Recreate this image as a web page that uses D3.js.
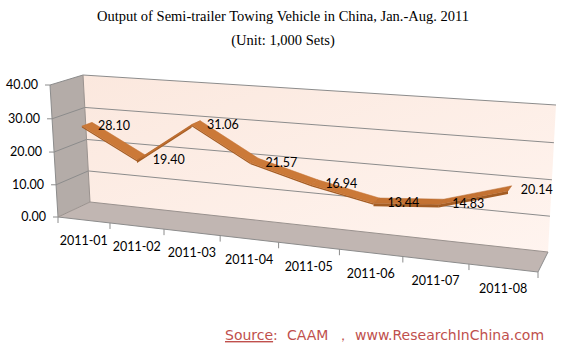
<!DOCTYPE html>
<html>
<head>
<meta charset="utf-8">
<script src="https://cdn.jsdelivr.net/npm/d3@7"></script>
<style>
  body { margin: 0; background: #fff; }
  svg { display: block; }
</style>
</head>
<body>
<svg id="chart" width="564" height="352"></svg>
<script>
// data
const months = ["2011-01", "2011-02", "2011-03", "2011-04", "2011-05", "2011-06", "2011-07", "2011-08"];
const output = [28.10, 19.40, 31.06, 21.57, 16.94, 13.44, 14.83, 20.14];
const valueTicks = [0, 10, 20, 30, 40];

const svg = d3.select("#chart");

// corners of the front and back planes of the 3d box (screen px)
const frontQuad = [[58, 217], [538, 272], [547, 118], [50, 85]]; // BL, BR, TR, TL
const backQuad = [[90, 202], [548, 252], [556, 105], [83, 75]];

// unit square -> quad (perspective)
function homography(q) {
    const [x0, y0] = q[0], [x1, y1] = q[1], [x2, y2] = q[2], [x3, y3] = q[3];
    const dx1 = x1 - x2, dx2 = x3 - x2, dx3 = x0 - x1 + x2 - x3;
    const dy1 = y1 - y2, dy2 = y3 - y2, dy3 = y0 - y1 + y2 - y3;
    const den = dx1 * dy2 - dx2 * dy1;
    const g = (dx3 * dy2 - dx2 * dy3) / den;
    const h = (dx1 * dy3 - dx3 * dy1) / den;
    const a = x1 - x0 + g * x1, b = x3 - x0 + h * x3, c = x0;
    const d = y1 - y0 + g * y1, e = y3 - y0 + h * y3, f = y0;
    return (u, v) => {
        const w = g * u + h * v + 1;
        return [(a * u + b * v + c) / w, (d * u + e * v + f) / w];
    };
}
const front = homography(frontQuad);
const back = homography(backQuad);

// 3d point: u across categories, v up the value axis, z into depth
function P(u, v, z) {
    const p = front(u, v), q = back(u, v);
    return [p[0] + (q[0] - p[0]) * z, p[1] + (q[1] - p[1]) * z];
}

const x = d3.scaleBand().domain(months).range([0, 1]);
const y = d3.scaleLinear().domain([0, 40]).range([0, 1]);
const xc = m => x(m) + x.bandwidth() / 2;

const line = d3.line();
const poly = pts => line(pts) + "Z";

// defs
const defs = svg.append("defs");
const wallGrad = defs.append("linearGradient").attr("id", "wallGrad")
    .attr("x1", 0).attr("y1", 0).attr("x2", 1).attr("y2", 1);
wallGrad.append("stop").attr("offset", 0).attr("stop-color", "#fbe8de");
wallGrad.append("stop").attr("offset", 1).attr("stop-color", "#fff4ef");

// back wall
svg.append("path")
    .attr("d", poly([P(0, 0, 1), P(1, 0, 1), P(1, 1, 1), P(0, 1, 1)]))
    .attr("fill", "url(#wallGrad)");

// side wall
svg.append("path")
    .attr("d", poly([P(0, 0, 0), P(0, 0, 1), P(0, 1, 1), P(0, 1, 0)]))
    .attr("fill", "#b4aca8");

// floor
svg.append("path")
    .attr("d", poly([P(0, 0, 0), P(1, 0, 0), P(1, 0, 1), P(0, 0, 1)]))
    .attr("fill", "#c1b6b2");

// gridlines: side wall + back wall
const grid = svg.append("g").attr("stroke", "#8c8c8c").attr("stroke-width", 1).attr("fill", "none");
valueTicks.forEach(t => {
    if (t === 0) return;
    grid.append("path").attr("d", line([P(0, y(t), 0), P(0, y(t), 1), P(1, y(t), 1)]));
});
// box edges
grid.append("path").attr("d", line([P(0, 1, 0), P(0, 0, 0), P(1, 0, 0), P(1, 0, 1)]));
grid.append("path").attr("d", line([P(0, 0, 0), P(0, 0, 1), P(0, 1, 1)])).attr("stroke", "#9a928e");
grid.append("path").attr("d", line([P(0, 0, 1), P(1, 0, 1)])).attr("stroke", "#9a928e");

// value axis ticks + labels
const axisFont = "Lato, 'Open Sans', sans-serif";
valueTicks.forEach(t => {
    const p = P(0, y(t), 0);
    svg.append("line")
        .attr("x1", p[0] - 5).attr("y1", p[1]).attr("x2", p[0]).attr("y2", p[1])
        .attr("stroke", "#8c8c8c");
    svg.append("text")
        .attr("x", p[0] - 12).attr("y", p[1] + 4)
        .attr("text-anchor", "end")
        .attr("font-family", axisFont).attr("font-size", 12.5)
        .attr("fill", "#000")
        .text(d3.format(".2f")(t));
});

// category ticks + labels
const tickU = months.map(m => x(m)).concat([1]);
tickU.forEach(u => {
    const p = P(u, 0, 0);
    svg.append("line")
        .attr("x1", p[0]).attr("y1", p[1]).attr("x2", p[0]).attr("y2", p[1] + 6)
        .attr("stroke", "#8c8c8c");
});
months.forEach(m => {
    const p = P(xc(m), 0, 0);
    svg.append("text")
        .attr("x", p[0]).attr("y", p[1] + 25)
        .attr("text-anchor", "middle")
        .attr("font-family", axisFont).attr("font-size", 12.5)
        .text(m);
});

// ribbon
const z1 = 0.1, z2 = 0.42;
const ribbon = svg.append("g");
for (let i = 0; i < months.length - 1; i++) {
    const ua = xc(months[i]), ub = xc(months[i + 1]);
    const va = y(output[i]), vb = y(output[i + 1]);
    const a1 = P(ua, va, z1), b1 = P(ub, vb, z1);
    const thick = vb > va ? 3 : 1.5; // rising parts show more of the edge
    ribbon.append("path")
        .attr("d", poly([a1, b1, [b1[0], b1[1] + thick], [a1[0], a1[1] + thick]]))
        .attr("fill", "#a45d24");
}
for (let i = 0; i < months.length - 1; i++) {
    const ua = xc(months[i]), ub = xc(months[i + 1]);
    const va = y(output[i]), vb = y(output[i + 1]);
    const a1 = P(ua, va, z1), b1 = P(ub, vb, z1), b2 = P(ub, vb, z2), a2 = P(ua, va, z2);
    ribbon.append("path")
        .attr("d", poly([a1, b1, b2, a2]))
        .attr("fill", vb > va ? "#c47232" : "#cb7938")
        .attr("stroke", vb > va ? "#b3672c" : "#c47334")
        .attr("stroke-width", 0.5);
}

// data labels
months.forEach((m, i) => {
    const p = P(xc(m), y(output[i]), (z1 + z2) / 2);
    svg.append("text")
        .attr("x", p[0] + 11).attr("y", p[1] + 6)
        .attr("font-family", axisFont).attr("font-size", 12.5)
        .text(d3.format(".2f")(output[i]));
});

// title
const title = svg.append("text")
    .attr("text-anchor", "middle")
    .attr("font-family", "'Liberation Serif', 'DejaVu Serif', serif")
    .attr("font-size", 14.5)
    .attr("fill", "#000");
title.append("tspan").attr("x", 283).attr("y", 21)
    .text("Output of Semi-trailer Towing Vehicle in China, Jan.-Aug. 2011");
title.append("tspan").attr("x", 283).attr("y", 45)
    .text("(Unit: 1,000 Sets)");

// source
const src = svg.append("text")
    .attr("y", 340)
    .attr("font-family", "'DejaVu Sans', sans-serif")
    .attr("font-size", 14)
    .attr("fill", "#c0504d");
src.append("tspan").attr("x", 225).attr("text-decoration", "underline").text("Source");
src.append("tspan").text(":");
src.append("tspan").attr("x", 287).text("CAAM");
src.append("tspan").attr("x", 336).text("\uFF0C");
src.append("tspan").attr("x", 355).text("www.ResearchInChina.com");
</script>
</body>
</html>
